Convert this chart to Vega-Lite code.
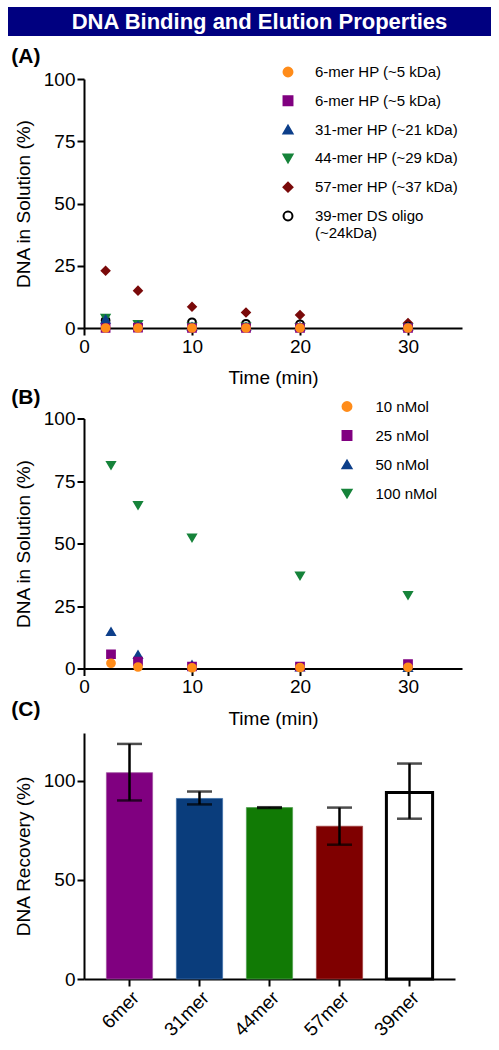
{
  "$schema": "https://vega.github.io/schema/vega-lite/v6.json",
  "background": "white",
  "padding": {"left": 8, "top": 7, "right": 0, "bottom": 0},
  "config": {
    "font": "Liberation Sans",
    "view": {"stroke": null},
    "axis": {
      "domainColor": "black", "domainWidth": 2, "tickColor": "black", "tickWidth": 2, "tickSize": 7,
      "labelColor": "black", "labelFontSize": 19, "labelFont": "Liberation Sans", "labelPadding": 2, "labelFlush": false,
      "titleFont": "Liberation Sans", "titleFontSize": 19, "titleFontWeight": "normal", "titleColor": "black",
      "grid": false
    },
    "axisX": {"titlePadding": 12.5},
    "axisY": {"titlePadding": 10},
    "legend": {"labelFont": "Liberation Sans", "labelColor": "black", "labelFontSize": 15, "labelLimit": 300, "padding": 0},
    "title": {"font": "Liberation Sans", "fontSize": 21, "fontWeight": "bold", "color": "black", "anchor": "start", "frame": "bounds"}
  },
  "columns": 1,
  "align": "none",
  "spacing": 10,
  "resolve": {
    "scale": {"x": "independent", "y": "independent", "fill": "independent", "stroke": "independent", "shape": "independent", "strokeWidth": "independent"},
    "legend": {"fill": "independent", "stroke": "independent", "shape": "independent", "strokeWidth": "independent"}
  },
  "concat": [
    {
      "width": 483,
      "height": 29,
      "view": {"fill": "#000080", "stroke": null},
      "data": {"values": [{"t": "DNA Binding and Elution Properties"}]},
      "mark": {"type": "text", "color": "white", "font": "Liberation Sans", "fontWeight": "bold", "fontSize": 22, "dx": 10, "baseline": "middle"},
      "encoding": {"text": {"field": "t", "type": "nominal"}}
    },
    {
      "columns": 2,
      "align": "none",
      "spacing": 2,
      "resolve": {
        "scale": {"x": "independent", "y": "independent", "fill": "independent", "stroke": "independent", "shape": "independent", "strokeWidth": "independent"},
        "legend": {"fill": "independent", "stroke": "independent", "shape": "independent", "strokeWidth": "independent"}
      },
      "concat": [
        {
          "width": 1,
          "height": 1,
          "data": {"values": []},
          "mark": {"type": "point"}
        },
        {
          "columns": 1,
          "align": "none",
          "spacing": -1.5,
          "resolve": {
            "scale": {"x": "independent", "y": "independent", "fill": "independent", "stroke": "independent", "shape": "independent", "strokeWidth": "independent"},
            "legend": {"fill": "independent", "stroke": "independent", "shape": "independent", "strokeWidth": "independent"}
          },
          "concat": [
            {
              "title": {"text": "(A)", "offset": -2.5, "dx": -3},
              "width": 378,
              "height": 249,
              "data": {"values": [
                {"s": "57-mer HP (~37 kDa)", "t": 2, "v": 23},
                {"s": "57-mer HP (~37 kDa)", "t": 5, "v": 15},
                {"s": "57-mer HP (~37 kDa)", "t": 10, "v": 8.5},
                {"s": "57-mer HP (~37 kDa)", "t": 15, "v": 6.2},
                {"s": "57-mer HP (~37 kDa)", "t": 20, "v": 5.2},
                {"s": "57-mer HP (~37 kDa)", "t": 30, "v": 2},
                {"s": "39-mer DS oligo (~24kDa)", "t": 2, "v": 3},
                {"s": "39-mer DS oligo (~24kDa)", "t": 5, "v": 1},
                {"s": "39-mer DS oligo (~24kDa)", "t": 10, "v": 2.3},
                {"s": "39-mer DS oligo (~24kDa)", "t": 15, "v": 1.7},
                {"s": "39-mer DS oligo (~24kDa)", "t": 20, "v": 1.5},
                {"s": "39-mer DS oligo (~24kDa)", "t": 30, "v": 0.6},
                {"s": "44-mer HP (~29 kDa)", "t": 2, "v": 4},
                {"s": "44-mer HP (~29 kDa)", "t": 5, "v": 1.5},
                {"s": "44-mer HP (~29 kDa)", "t": 10, "v": 0.5},
                {"s": "44-mer HP (~29 kDa)", "t": 15, "v": 0.5},
                {"s": "44-mer HP (~29 kDa)", "t": 20, "v": 0.3},
                {"s": "44-mer HP (~29 kDa)", "t": 30, "v": 0.3},
                {"s": "31-mer HP (~21 kDa)", "t": 2, "v": 3.5},
                {"s": "31-mer HP (~21 kDa)", "t": 5, "v": 1},
                {"s": "31-mer HP (~21 kDa)", "t": 10, "v": 0.5},
                {"s": "31-mer HP (~21 kDa)", "t": 15, "v": 0.5},
                {"s": "31-mer HP (~21 kDa)", "t": 20, "v": 0.5},
                {"s": "31-mer HP (~21 kDa)", "t": 30, "v": 0.5},
                {"s": "6-mer HP  (~5 kDa)", "t": 2, "v": 0},
                {"s": "6-mer HP  (~5 kDa)", "t": 5, "v": 0.2},
                {"s": "6-mer HP  (~5 kDa)", "t": 10, "v": 0},
                {"s": "6-mer HP  (~5 kDa)", "t": 15, "v": 0},
                {"s": "6-mer HP  (~5 kDa)", "t": 20, "v": 0},
                {"s": "6-mer HP  (~5 kDa)", "t": 30, "v": 0},
                {"s": "6-mer HP (~5 kDa)", "t": 2, "v": 0},
                {"s": "6-mer HP (~5 kDa)", "t": 5, "v": 0},
                {"s": "6-mer HP (~5 kDa)", "t": 10, "v": 0},
                {"s": "6-mer HP (~5 kDa)", "t": 15, "v": 0},
                {"s": "6-mer HP (~5 kDa)", "t": 20, "v": 0},
                {"s": "6-mer HP (~5 kDa)", "t": 30, "v": 0}
              ]},
              "mark": {"type": "point", "filled": true, "size": 60, "strokeWidth": 2, "opacity": 1},
              "encoding": {
                "x": {"field": "t", "type": "quantitative", "scale": {"domain": [0, 35], "nice": false}, "axis": {"values": [0, 10, 20, 30], "title": "Time (min)"}},
                "y": {"field": "v", "type": "quantitative", "scale": {"domain": [0, 100], "nice": false}, "axis": {"values": [0, 25, 50, 75, 100], "title": "DNA in Solution (%)"}},
                "shape": {"field": "s", "type": "nominal",
                  "scale": {"domain": ["6-mer HP (~5 kDa)", "6-mer HP  (~5 kDa)", "31-mer HP (~21 kDa)", "44-mer HP (~29 kDa)", "57-mer HP (~37 kDa)", "39-mer DS oligo (~24kDa)"],
                            "range": ["circle", "square", "triangle-up", "triangle-down", "diamond", "circle"]},
                  "legend": {"title": null, "orient": "none", "legendX": 196.5, "legendY": -14.5, "labelOffset": 19.5, "rowPadding": 11.8, "symbolSize": 80, "symbolStrokeWidth": 2,
                             "labelExpr": "datum.label == '39-mer DS oligo (~24kDa)' ? ['39-mer DS oligo', '(~24kDa)'] : datum.label"}},
                "fill": {"field": "s", "type": "nominal",
                  "scale": {"domain": ["6-mer HP (~5 kDa)", "6-mer HP  (~5 kDa)", "31-mer HP (~21 kDa)", "44-mer HP (~29 kDa)", "57-mer HP (~37 kDa)", "39-mer DS oligo (~24kDa)"],
                            "range": ["#FF8C1A", "#800080", "#0D3F8A", "#16833A", "#7A0A0A", "white"]},
                  "legend": {"title": null, "orient": "none", "legendX": 196.5, "legendY": -14.5, "labelOffset": 19.5, "rowPadding": 11.8, "symbolSize": 80, "symbolStrokeWidth": 2,
                             "labelExpr": "datum.label == '39-mer DS oligo (~24kDa)' ? ['39-mer DS oligo', '(~24kDa)'] : datum.label"}},
                "stroke": {"field": "s", "type": "nominal",
                  "scale": {"domain": ["6-mer HP (~5 kDa)", "6-mer HP  (~5 kDa)", "31-mer HP (~21 kDa)", "44-mer HP (~29 kDa)", "57-mer HP (~37 kDa)", "39-mer DS oligo (~24kDa)"],
                            "range": ["#FF8C1A", "#800080", "#0D3F8A", "#16833A", "#7A0A0A", "black"]},
                  "legend": {"title": null, "orient": "none", "legendX": 196.5, "legendY": -14.5, "labelOffset": 19.5, "rowPadding": 11.8, "symbolSize": 80, "symbolStrokeWidth": 2,
                             "labelExpr": "datum.label == '39-mer DS oligo (~24kDa)' ? ['39-mer DS oligo', '(~24kDa)'] : datum.label"}}
              }
            },
            {
              "columns": 1,
              "align": "none",
              "spacing": -30.5,
              "resolve": {
                "scale": {"x": "independent", "y": "independent", "fill": "independent", "stroke": "independent", "shape": "independent", "strokeWidth": "independent"},
                "legend": {"fill": "independent", "stroke": "independent", "shape": "independent", "strokeWidth": "independent"}
              },
              "concat": [
                {
                  "title": {"text": "(B)", "offset": -8.5, "dx": -3},
                  "width": 378,
                  "height": 250,
                  "data": {"values": [
                    {"s": "100 nMol", "t": 2.5, "v": 81.3},
                    {"s": "100 nMol", "t": 5, "v": 65.3},
                    {"s": "100 nMol", "t": 10, "v": 52.3},
                    {"s": "100 nMol", "t": 20, "v": 37.1},
                    {"s": "100 nMol", "t": 30, "v": 29.3},
                    {"s": "50 nMol", "t": 2.5, "v": 14.7},
                    {"s": "50 nMol", "t": 5, "v": 5.5},
                    {"s": "50 nMol", "t": 10, "v": 1.5},
                    {"s": "50 nMol", "t": 20, "v": 0.5},
                    {"s": "50 nMol", "t": 30, "v": 0.3},
                    {"s": "25 nMol", "t": 2.5, "v": 5.7},
                    {"s": "25 nMol", "t": 5, "v": 2.8},
                    {"s": "25 nMol", "t": 10, "v": 0.8},
                    {"s": "25 nMol", "t": 20, "v": 0.8},
                    {"s": "25 nMol", "t": 30, "v": 1.8},
                    {"s": "10 nMol", "t": 2.5, "v": 2.1},
                    {"s": "10 nMol", "t": 5, "v": 0.6},
                    {"s": "10 nMol", "t": 10, "v": 0.3},
                    {"s": "10 nMol", "t": 20, "v": 0.4},
                    {"s": "10 nMol", "t": 30, "v": 0.5}
                  ]},
                  "mark": {"type": "point", "filled": true, "size": 60, "strokeWidth": 2, "opacity": 1},
                  "encoding": {
                    "x": {"field": "t", "type": "quantitative", "scale": {"domain": [0, 35], "nice": false}, "axis": {"values": [0, 10, 20, 30], "title": "Time (min)"}},
                    "y": {"field": "v", "type": "quantitative", "scale": {"domain": [0, 100], "nice": false}, "axis": {"values": [0, 25, 50, 75, 100], "title": "DNA in Solution (%)"}},
                    "shape": {"field": "s", "type": "nominal",
                      "scale": {"domain": ["10 nMol", "25 nMol", "50 nMol", "100 nMol"], "range": ["circle", "square", "triangle-up", "triangle-down"]},
                      "legend": {"title": null, "orient": "none", "legendX": 255.5, "legendY": -19.5, "labelOffset": 21, "rowPadding": 12.0, "symbolSize": 80, "symbolStrokeWidth": 2}},
                    "fill": {"field": "s", "type": "nominal",
                      "scale": {"domain": ["10 nMol", "25 nMol", "50 nMol", "100 nMol"], "range": ["#FF8C1A", "#800080", "#0D3F8A", "#16833A"]},
                      "legend": {"title": null, "orient": "none", "legendX": 255.5, "legendY": -19.5, "labelOffset": 21, "rowPadding": 12.0, "symbolSize": 80, "symbolStrokeWidth": 2}},
                    "stroke": {"field": "s", "type": "nominal",
                      "scale": {"domain": ["10 nMol", "25 nMol", "50 nMol", "100 nMol"], "range": ["#FF8C1A", "#800080", "#0D3F8A", "#16833A"]},
                      "legend": {"title": null, "orient": "none", "legendX": 255.5, "legendY": -19.5, "labelOffset": 21, "rowPadding": 12.0, "symbolSize": 80, "symbolStrokeWidth": 2}}
                  }
                },
                {
                  "title": {"text": "(C)", "offset": 13.5, "dx": -3},
                  "width": 371,
                  "height": 246,
                  "data": {"values": [
                    {"g": "6mer", "v": 104, "lo": 90, "hi": 118.5},
                    {"g": "31mer", "v": 91, "lo": 88, "hi": 94.5},
                    {"g": "44mer", "v": 86.4, "lo": 86.2, "hi": 86.6},
                    {"g": "57mer", "v": 77, "lo": 67.7, "hi": 86.4},
                    {"g": "39mer", "v": 94, "lo": 80.8, "hi": 108.6}
                  ]},
                  "encoding": {
                    "x": {"field": "g", "type": "nominal", "sort": null,
                      "scale": {"paddingInner": 0.34, "paddingOuter": 0.32},
                      "axis": {"title": null, "labelAngle": -45}}
                  },
                  "layer": [
                    {
                      "mark": {"type": "bar"},
                      "encoding": {
                        "y": {"field": "v", "type": "quantitative", "scale": {"domain": [0, 124], "nice": false}, "axis": {"values": [0, 50, 100], "title": "DNA Recovery (%)"}},
                        "fill": {"field": "g", "type": "nominal", "legend": null,
                          "scale": {"domain": ["6mer", "31mer", "44mer", "57mer", "39mer"], "range": ["#800080", "#0A3D7C", "#117A05", "#7F0000", "white"]}},
                        "stroke": {"field": "g", "type": "nominal", "legend": null,
                          "scale": {"domain": ["6mer", "31mer", "44mer", "57mer", "39mer"], "range": ["#A050A0", "#4070A8", "#50A050", "#A04040", "black"]}},
                        "strokeWidth": {"field": "g", "type": "nominal", "legend": null,
                          "scale": {"type": "ordinal", "domain": ["6mer", "31mer", "44mer", "57mer", "39mer"], "range": [0.8, 0.8, 0.8, 0.8, 3]}}
                      }
                    },
                    {
                      "mark": {"type": "rule", "color": "black", "strokeWidth": 2.5},
                      "encoding": {
                        "y": {"field": "lo", "type": "quantitative"},
                        "y2": {"field": "hi"}
                      }
                    },
                    {
                      "mark": {"type": "tick", "color": "black", "size": 25, "thickness": 2.5, "orient": "horizontal"},
                      "encoding": {"y": {"field": "lo", "type": "quantitative"}}
                    },
                    {
                      "mark": {"type": "tick", "color": "black", "size": 25, "thickness": 2.5, "orient": "horizontal"},
                      "encoding": {"y": {"field": "hi", "type": "quantitative"}}
                    }
                  ]
                }
              ]
            }
          ]
        }
      ]
    }
  ]
}
